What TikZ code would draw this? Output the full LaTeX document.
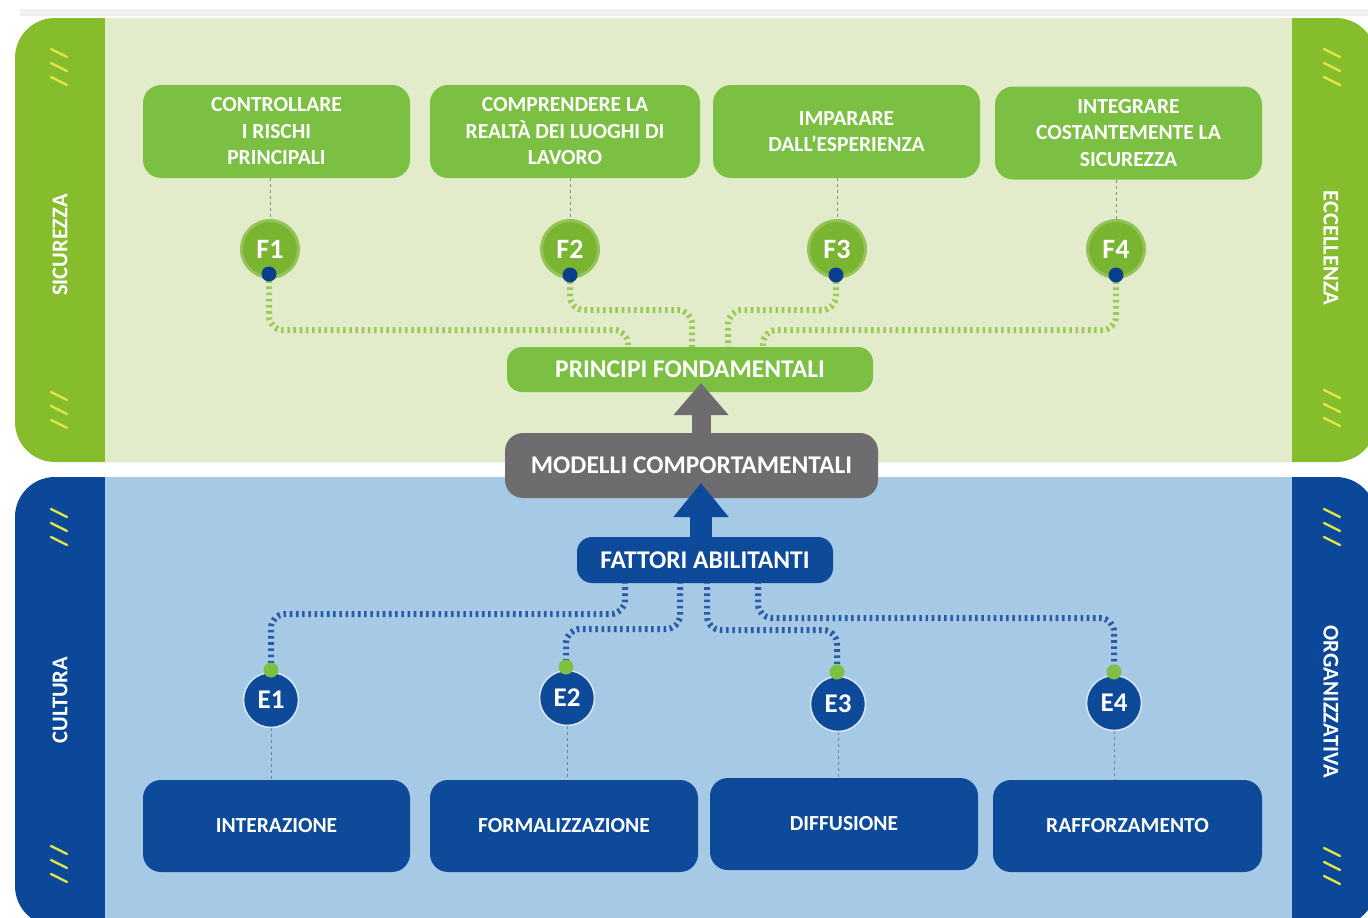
\documentclass[tikz,border=0pt]{standalone}
\usepackage{fontspec}
\setmainfont{Carlito}
\usetikzlibrary{arrows.meta,calc}
\pgfdeclarelayer{back}
\pgfdeclarelayer{bg}
\pgfsetlayers{back,bg,main}
\definecolor{barG}{HTML}{86BD2C}
\definecolor{panelG}{HTML}{E3ECCA}
\definecolor{boxG}{HTML}{7CC043}
\definecolor{circG}{HTML}{79B530}
\definecolor{barB}{HTML}{0C4899}
\definecolor{panelB}{HTML}{A6C9E5}
\definecolor{boxB}{HTML}{0D4A9A}
\definecolor{grayM}{HTML}{6D6D6F}
\definecolor{dotBl}{HTML}{0B3F8E}
\definecolor{dotGr}{HTML}{7CC142}
\definecolor{strG}{HTML}{9CC957}
\definecolor{strB}{HTML}{2A5BA6}
\definecolor{slashY}{HTML}{E2E545}
\definecolor{dashC}{HTML}{8C8C8C}
\definecolor{dashBC}{HTML}{6A83A6}
\newcommand\myBoxFont{\fontsize{21.5}{26.5}\selectfont\bfseries}
\newcommand\myMidFont{\fontsize{25.5}{30}\selectfont\bfseries}
\newcommand\mySideFont{\fontsize{22.5}{26}\selectfont\bfseries}
\newcommand\myFFont{\fontsize{28}{30}\selectfont\bfseries}
\newcommand\myEFont{\fontsize{27}{30}\selectfont\bfseries}
\newcommand\slashtrio[2]{%
  \foreach \k in {-14,0,14}{%
    \draw[slashY, line width=2.4pt, line cap=round] ({#1-8},{#2+\k-4}) -- ({#1+8},{#2+\k+4});}}
\begin{document}
\begin{tikzpicture}[x=1pt,y=-1pt,
  gbx/.style={fill=boxG, rounded corners=18pt, text=white, font=\myBoxFont, align=center, inner sep=0pt},
  bbx/.style={fill=boxB, rounded corners=18pt, text=white, font=\myBoxFont, align=center, inner sep=0pt},
  midbx/.style={rounded corners=15pt, text=white, font=\myMidFont, align=center, inner sep=0pt},
  sidelbl/.style={text=white, font=\mySideFont, inner sep=0pt},
  circF/.style={circle, fill=circG, draw=circG!75!panelG, line width=3pt, minimum size=57pt, inner sep=0pt, text=white, font=\myFFont},
  circE/.style={circle, fill=boxB, draw=white!60!panelB, line width=1.5pt, minimum size=55pt, inner sep=0pt, text=white, font=\myEFont},
  dotb/.style={circle, fill=dotBl, minimum size=15pt, inner sep=0pt},
  dotg/.style={circle, fill=dotGr, minimum size=15pt, inner sep=0pt},
  strandg/.style={draw=strG, line width=6pt, dash pattern=on 2.6pt off 3.6pt, rounded corners=14pt},
  strandb/.style={draw=strB, line width=6pt, dash pattern=on 2.6pt off 3.6pt, rounded corners=14pt},
  thindash/.style={draw=dashC, line width=0.9pt, dash pattern=on 3pt off 3pt},
  thindashb/.style={draw=dashBC, line width=0.9pt, dash pattern=on 3pt off 3pt}
]
\useasboundingbox (0,0) rectangle (1368,918);
\begin{pgfonlayer}{back}
\clip (0,0) rectangle (1368,918);
\fill[white] (0,0) rectangle (1368,918);
\fill[gray!12] (20,9) rectangle (1368,16);
\fill[barG, rounded corners=40pt] (15,18) rectangle (1376,462);
\fill[panelG] (105,18) rectangle (1292,462);
\fill[barB, rounded corners=40pt] (15,477) rectangle (1376,926);
\fill[panelB] (105,477) rectangle (1292,926);
\slashtrio{59}{67}
\slashtrio{59}{410}
\slashtrio{59}{527}
\slashtrio{59}{864}
\slashtrio{1332}{67}
\slashtrio{1332}{408}
\slashtrio{1332}{527}
\slashtrio{1332}{866}
\end{pgfonlayer}

% side labels
\node[sidelbl, rotate=90] (lsic) at (60,245) {SICUREZZA};
\node[sidelbl, rotate=-90] (recc) at (1331,248) {ECCELLENZA};
\node[sidelbl, rotate=90] (lcul) at (60,700) {CULTURA};
\node[sidelbl, rotate=-90] (rorg) at (1331,702) {ORGANIZZATIVA};

% top boxes
\node[gbx, minimum width=267pt, minimum height=93pt] (p1) at (276.5,131.5) {CONTROLLARE\\I RISCHI\\PRINCIPALI};
\node[gbx, minimum width=270pt, minimum height=93pt] (p2) at (565,131.5) {COMPRENDERE LA\\REALTÀ DEI LUOGHI DI\\LAVORO};
\node[gbx, minimum width=267pt, minimum height=93pt] (p3) at (846.5,131.5) {IMPARARE\\DALL’ESPERIENZA};
\node[gbx, minimum width=267pt, minimum height=93pt] (p4) at (1128.5,133) {INTEGRARE\\COSTANTEMENTE LA\\SICUREZZA};

% F circles
\node[circF] (c1) at (270,249) {F1};
\node[circF] (c2) at (570,249) {F2};
\node[circF] (c3) at (837,249) {F3};
\node[circF] (c4) at (1116,249) {F4};
\node[dotb] (d1) at (269,274) {};
\node[dotb] (d2) at (570,275) {};
\node[dotb] (d3) at (836,275) {};
\node[dotb] (d4) at (1116,275) {};

% central boxes
\node[midbx, fill=boxG, minimum width=366pt, minimum height=45pt] (pf) at (690,369.5) {PRINCIPI FONDAMENTALI};
\node[midbx, fill=grayM, rounded corners=18pt, minimum width=373pt, minimum height=65pt] (mc) at (691.5,465.5) {MODELLI COMPORTAMENTALI};
\node[midbx, fill=boxB, minimum width=256pt, minimum height=46pt] (fa) at (705,560) {FATTORI ABILITANTI};

% bottom boxes
\node[bbx, minimum width=267pt, minimum height=92pt] (q1) at (276.5,826) {INTERAZIONE};
\node[bbx, minimum width=268pt, minimum height=92pt] (q2) at (564,826) {FORMALIZZAZIONE};
\node[bbx, minimum width=268pt, minimum height=92pt] (q3) at (844,824) {DIFFUSIONE};
\node[bbx, minimum width=269pt, minimum height=92pt] (q4) at (1127.5,826) {RAFFORZAMENTO};

% E circles
\node[circE] (e1) at (271,700) {E1};
\node[circE] (e2) at (567,698) {E2};
\node[circE] (e3) at (838,704) {E3};
\node[circE] (e4) at (1114,703) {E4};
\node[dotg] (g1) at (271,670) {};
\node[dotg] (g2) at (566,667) {};
\node[dotg] (g3) at (837,672) {};
\node[dotg] (g4) at (1114,672) {};

% connectors behind nodes
\begin{pgfonlayer}{bg}
\draw[thindash] (p1.south -| c1) -- (c1.north);
\draw[thindash] (p2.south -| c2) -- (c2.north);
\draw[thindash] (p3.south -| c3) -- (c3.north);
\draw[thindash] (p4.south -| c4) -- (c4.north);
\draw[thindashb] (e1.south) -- (q1.north -| e1);
\draw[thindashb] (e2.south) -- (q2.north -| e2);
\draw[thindashb] (e3.south) -- (q3.north -| e3);
\draw[thindashb] (e4.south) -- (q4.north -| e4);
\coordinate (t1) at (628,349);
\coordinate (t2) at (692,349);
\coordinate (t3) at (728,349);
\coordinate (t4) at (763,349);
\draw[strandg] (d1.center) -- (269,330) -- (628,330) -- (t1);
\draw[strandg] (d2.center) -- (570,310) -- (692,310) -- (t2);
\draw[strandg] (d3.center) -- (836,310) -- (728,310) -- (t3);
\draw[strandg] (d4.center) -- (1116,330) -- (763,330) -- (t4);
\coordinate (b1) at (625,581);
\coordinate (b2) at (680,581);
\coordinate (b3) at (707,581);
\coordinate (b4) at (758,581);
\draw[strandb] (b1) -- (625,614) -- (271,614) -- (g1.center);
\draw[strandb] (b2) -- (680,629) -- (566,629) -- (g2.center);
\draw[strandb] (b3) -- (707,630) -- (837,630) -- (g3.center);
\draw[strandb] (b4) -- (758,618) -- (1114,618) -- (g4.center);
\end{pgfonlayer}

% arrows
\coordinate (ga) at (701,383);
\draw[grayM, line width=19pt, -{Triangle[width=53pt,length=32pt]}] (mc.north -| ga) -- (ga);
\coordinate (ba) at (701,483);
\draw[boxB, line width=22pt, -{Triangle[width=53pt,length=34pt]}] (fa.north -| ba) -- (ba);
\end{tikzpicture}
\end{document}
